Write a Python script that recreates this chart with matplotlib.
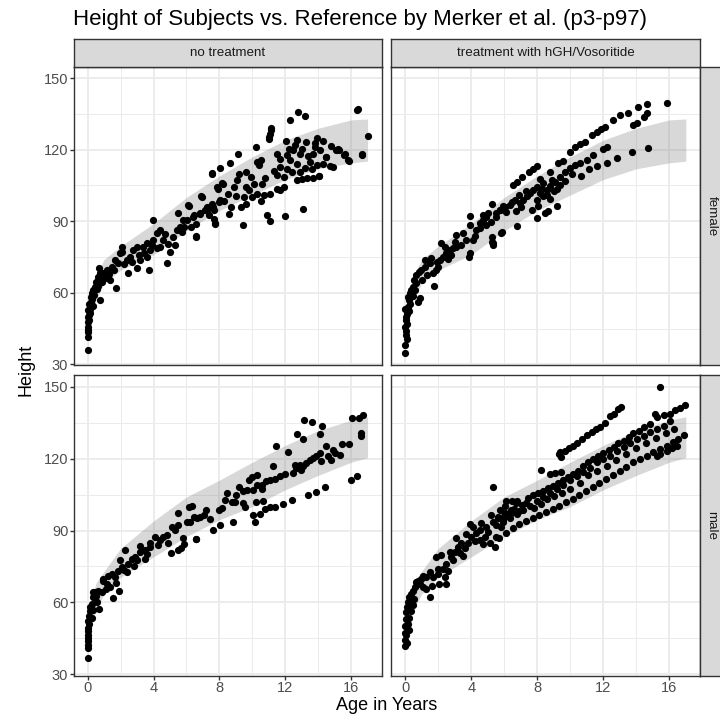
"""Height of subjects vs. Merker et al. reference band, faceted by sex and treatment."""
import matplotlib
matplotlib.use("Agg")
import matplotlib.pyplot as plt

plt.rcParams["font.family"] = ["Liberation Sans", "DejaVu Sans"]

# ----- reference band (p3 / p97) -----
ref_age = [0, 0.5, 1, 2, 4, 6, 8, 10, 12, 14, 16, 17]
female_p3 = [44, 57, 64, 69.5, 76, 86, 94.5, 101, 107.5, 112, 114.5, 115.2]
female_p97 = [53, 67, 74, 79.5, 89, 100, 109, 117, 124, 129, 132.5, 132.9]
male_p3 = [44, 57, 63.5, 70.5, 79, 87.5, 94.5, 100, 107, 113, 118.5, 120.4]
male_p97 = [54, 68, 73, 82.5, 94, 104, 111, 118.5, 125.5, 131.7, 136, 137.5]

# ----- subjects (age in years, height in cm) -----
female_untreated = [
    (0, 35.9), (0, 41.5), (0, 43.5), (0, 45.7), (0.02, 47.8), (0, 49.9), (0.04, 52.7),
    (0.06, 50.5), (0.1, 55.5), (0.12, 53), (0.18, 58.3), (0.2, 56), (0.24, 59.7),
    (0.28, 57.5), (0.34, 61.1), (0.4, 59), (0.45, 62.5), (0.5, 64.6), (0.55, 61.5),
    (0.65, 66.7), (0.71, 70.2), (0.75, 68.1), (0.75, 56.9), (0.85, 64.6), (0.95, 68.1),
    (1.05, 66), (0.02, 44.5), (0.08, 48.5), (0.15, 51.5), (0.3, 54.5), (0.6, 63),
    (1.15, 69.5), (1.46, 70.9), (1.66, 73.7), (1.96, 76.5), (2.06, 79.3), (2.37, 73.7),
    (2.57, 75.1), (2.77, 77.9), (2.98, 79.3), (3.18, 73.7), (2.98, 70.2), (2.47, 68.1),
    (3.74, 69.7), (2.06, 77.2), (1.86, 72.3), (1.36, 65.3), (1.72, 61.8), (1.3, 68),
    (1.6, 69.5), (2.2, 72), (2.7, 73), (3.4, 76.5), (0.9, 66.5), (1.2, 67),
    (3.38, 79.3), (3.58, 80.7), (3.79, 77.9), (3.99, 82.1), (4.19, 84.9), (4.39, 86.3),
    (3.99, 90.5), (4.6, 82.1), (4.8, 72.3), (5.0, 77.2), (5.2, 83.5), (5.4, 86.3),
    (5.6, 87.7), (5.5, 93.3), (5.81, 90.5), (6.11, 96.8), (4.39, 79.3), (3.58, 75.1),
    (4.19, 78.6), (4.9, 80.5), (5.3, 80), (4.7, 84.5), (3.1, 76), (3.9, 80),
    (6.58, 83.8), (6.42, 91.9), (6.92, 100.3), (6.82, 93.3), (7.23, 94.7), (7.63, 96.1),
    (7.83, 104.5), (8.14, 105.9), (8.04, 98.9), (7.53, 110.1), (7.73, 89.1),
    (16.34, 136.8), (12.79, 135.7), (13.19, 134.3), (12.26, 132.6), (11.13, 128.3),
    (11.05, 126.6), (10.99, 124.5), (17.05, 125.9), (10.2, 121.1), (12.04, 123.6),
    (12.73, 124.1), (13.27, 123.1), (13.78, 122.7), (15.25, 119.9), (15.64, 118.3),
    (15.86, 115.2), (16.65, 117.8), (9.13, 118.0), (8.67, 114.6), (8.06, 112.4),
    (7.54, 109.9), (6.91, 100.4), (6.14, 96.6), (6.59, 83.4), (9.41, 88.3),
    (10.89, 92.5), (11.09, 90.0), (11.96, 92.0), (13.11, 95.1), (14.04, 108.8),
    (14.46, 116.9), (13.5, 114.8), (13.7, 118.3), (13.8, 121.1), (14.1, 119.7),
    (11.5, 118.3), (11.7, 116.2), (12.1, 117.6), (12.3, 115.5), (12.5, 119.7),
    (12.7, 114.1), (12.9, 118.3), (11.7, 112.7), (12.1, 112.0), (11.5, 109.2),
    (11.9, 108.5), (12.7, 107.1), (13.0, 107.8), (13.3, 108.1), (11.1, 101.5),
    (11.5, 103.6), (11.9, 104.3), (11.7, 102.9), (10.6, 105.7), (10.8, 108.2),
    (10.4, 113.4), (10.3, 114.8), (10.5, 115.5), (9.6, 104.3), (9.8, 102.9),
    (10.1, 105.7), (10.0, 100.1), (10.3, 101.5), (9.5, 100.1), (9.6, 97.3), (9.3, 96.0),
    (10.5, 98.7), (10.7, 100.8), (9.1, 107.1), (8.9, 104.3), (9.2, 109.9), (9.6, 110.6),
    (8.2, 105.7), (7.9, 103.6), (8.5, 101.5), (8.3, 98.7), (8.7, 96.0), (8.6, 93.2),
    (8.0, 98.0), (7.7, 94.6), (7.15, 94.6), (7.35, 92.5), (6.85, 93.2), (7.66, 91.1),
    (7.76, 89.0), (6.44, 92.5), (6.04, 90.4), (5.84, 87.6), (5.74, 85.5), (7.25, 96.0),
    (7.55, 97.3), (16.4, 137.1), (16.64, 118.1), (15.8, 115.7), (15.6, 117.8),
    (15.22, 120.2), (14.5, 116.8), (14.07, 109.1), (13.7, 108.0), (11.11, 129.0),
    (11.03, 125.5), (12.2, 120.5), (12.6, 121.8), (13.0, 120.2), (13.4, 117.5),
    (13.6, 112), (13.9, 113.5), (14.3, 114), (14.7, 113.2), (13.2, 112.5), (12.9, 110.5),
    (12.4, 110.8), (14.9, 112.9), (15.1, 119.8), (14.8, 121.5), (13.9, 124.8),
    (14.3, 123.6), (9.0, 100.5), (9.9, 108.5), (11.3, 111), (6.6, 89), (6.3, 87.5),
]

female_treated = [
    (0, 34.7), (0, 38.0), (0.02, 42.2), (0, 45.7), (0.06, 48.5), (0.1, 51.3), (0.16, 54.1),
    (0.22, 56.9), (0.3, 59.7), (0.36, 61.1), (0.47, 62.5), (0.53, 65.3), (0.67, 67.4),
    (0.83, 68.8), (0.63, 63.9), (0.77, 56.2), (0.87, 57.6), (0.1, 47.1), (0.02, 49.9),
    (0, 53.4), (0.16, 58.3), (0.04, 44), (0.2, 52.5), (0.4, 60), (0.3, 55.5), (0.5, 58.5),
    (0.6, 61), (0.08, 40.5),
    (0.97, 69.5), (1.17, 70.9), (1.48, 72.3), (1.74, 62.9), (1.68, 68.1), (1.88, 69.5),
    (2.09, 73.7), (2.29, 75.1), (2.15, 81.0), (2.49, 76.5), (2.69, 77.9), (2.89, 78.6),
    (3.1, 79.3), (3.4, 80.0), (1.58, 74.4), (1.17, 73.7), (3.87, 75.1), (3.91, 76.5),
    (3.1, 84.2), (3.5, 84.9), (3.95, 92.2), (3.95, 88.4), (3.7, 82.1), (3.0, 81.4),
    (1.3, 67.5), (1.0, 65.5), (2.0, 71), (2.6, 74), (1.9, 73), (2.4, 79), (2.8, 76),
    (4.11, 82.1), (4.31, 86.3), (4.51, 89.1), (4.72, 90.5), (4.92, 91.9), (5.28, 81.4),
    (5.32, 80.0), (5.28, 97.2), (5.83, 85.2), (5.53, 91.9), (5.73, 94.7), (6.03, 96.1),
    (4.51, 87.0), (4.72, 92.6), (5.02, 93.3), (4.2, 84), (4.9, 88.5), (5.2, 89.5),
    (15.86, 139.7), (14.64, 139.2), (14.1, 137.8), (13.49, 135.6), (13.02, 134.6),
    (12.58, 132.5), (12.11, 129.7), (11.87, 128.6), (11.61, 127.6), (11.3, 126.2),
    (10.9, 123.4), (10.6, 122.3), (10.29, 121.0), (9.99, 119.2), (9.54, 115.4),
    (9.28, 114.3), (8.77, 110.8), (8.17, 107.6), (7.96, 113.2), (7.76, 111.8),
    (7.52, 110.8), (7.05, 108.7), (6.75, 106.6), (6.55, 105.3),
    (14.7, 120.6), (13.73, 119.2), (12.82, 116.4), (12.21, 114.6), (11.65, 113.2),
    (11.12, 111.8), (10.64, 109.0),
    (14.64, 135.3), (14.44, 133.9), (14.04, 131.1), (13.83, 130.4),
    (12.21, 121.3), (12.01, 120.2), (11.4, 117.8), (11.0, 115.7), (10.6, 114.6),
    (10.29, 113.6), (9.99, 112.2), (9.68, 110.8), (9.38, 108.7), (9.08, 106.6),
    (8.37, 106.0), (8.57, 103.2), (8.17, 101.8), (7.96, 99.0), (8.37, 100.4),
    (8.77, 104.6), (7.76, 103.2), (7.56, 101.8), (7.36, 100.4), (7.15, 99.0),
    (6.95, 97.6), (6.65, 99.0), (6.34, 96.9), (5.94, 96.2), (5.74, 94.8), (5.53, 93.4),
    (8.06, 96.2), (7.66, 94.8), (9.0, 102.5), (9.4, 105), (8.9, 107.5), (9.7, 107),
    (10.1, 110), (8.3, 103.5), (7.3, 102.5), (6.9, 101), (6.5, 98), (6.1, 94),
    (8.6, 101), (8.0, 104.5), (8.8, 99.5), (9.2, 103.5), (7.0, 96), (6.7, 94.5),
    (9.18, 96.5), (8.67, 94.5), (8.47, 93.4), (7.96, 91.3), (6.75, 88.1), (5.84, 85.3),
    (5.32, 80.8), (5.23, 83.6),
]

male_untreated = [
    (0, 36.8), (0, 41.0), (0, 43.8), (0, 46.6), (0, 49.4), (0.02, 52.3), (0.06, 54.4),
    (0.14, 56.5), (0.24, 59.3), (0.34, 62.1), (0.45, 64.2), (0.65, 64.9), (0.85, 64.2),
    (0.55, 60.0), (0.69, 57.2), (0.14, 57.9), (0.34, 64.2), (0.24, 53.7), (0.04, 48.0),
    (0.04, 45.2), (0, 42.4), (0.1, 51), (0.3, 57), (0.5, 62.5),
    (0.95, 69.8), (1.15, 67.7), (1.36, 66.3), (1.52, 61.8), (1.92, 64.6), (1.66, 70.5),
    (1.86, 73.3), (2.06, 74.8), (1.96, 77.6), (2.27, 81.8), (2.23, 73.6), (2.47, 76.2),
    (2.67, 78.3), (2.87, 79.0), (3.18, 81.1), (3.18, 83.5), (3.48, 81.8), (3.79, 83.2),
    (4.09, 87.4), (3.79, 84.6), (3.58, 80.4), (1.46, 71.9), (1.26, 71.2), (0.91, 69.1),
    (1.1, 65.5), (1.7, 68), (2.4, 72.5), (3.0, 77.5),
    (4.39, 86.0), (4.6, 87.4), (4.8, 88.1), (5.04, 80.7), (5.51, 81.8), (5.1, 91.6),
    (5.3, 90.2), (5.51, 92.3), (5.81, 86.7), (5.51, 97.3), (6.01, 93.7), (6.56, 86.3),
    (16.7, 138.2), (16.5, 136.8), (16.06, 136.8), (16.6, 130.8), (16.6, 129.4),
    (13.12, 136.1), (13.65, 135.3), (14.25, 133.6), (12.72, 130.4), (13.08, 128.0),
    (14.09, 130.4), (11.41, 125.1), (12.18, 122.8), (14.49, 125.2), (14.89, 123.8),
    (15.44, 125.9), (15.9, 125.9), (11.23, 117.0), (16.0, 111.2), (16.34, 112.6),
    (14.39, 108.0), (13.89, 105.9), (13.38, 104.9), (12.42, 102.8), (11.88, 101.0),
    (11.37, 100.0), (11.07, 99.7), (10.77, 98.9), (10.47, 96.8), (10.02, 96.3),
    (10.67, 102.4), (10.23, 102.1), (9.56, 99.8), (8.96, 101.7), (8.82, 93.7),
    (8.05, 92.1), (7.59, 90.2), (6.6, 86.5), (5.84, 84.4), (5.64, 82.6),
    (12.48, 114.0), (12.68, 116.1), (12.88, 117.5), (13.08, 116.8), (13.28, 118.2),
    (13.48, 119.6), (13.68, 120.3), (13.89, 121.0), (14.09, 122.4), (14.19, 118.9),
    (12.58, 117.5), (12.98, 115.4), (11.98, 113.7), (11.67, 112.6), (11.37, 111.5),
    (11.07, 110.9), (10.83, 110.5), (10.57, 107.3), (10.57, 109.1), (10.31, 109.1),
    (9.96, 112.3), (9.82, 111.2), (10.06, 107.0), (9.66, 107.0), (9.46, 106.3),
    (9.22, 108.1), (9.02, 104.9), (8.45, 105.6), (8.35, 102.8), (8.15, 99.3),
    (7.95, 98.6), (7.21, 98.6), (7.05, 96.5), (6.85, 95.8), (6.64, 95.1), (6.44, 95.8),
    (6.24, 93.7), (6.14, 99.8), (6.34, 100.3), (7.45, 94.8), (10.27, 113.3),
    (10.16, 93.7), (9.46, 101.4), (8.76, 102.1), (14.6, 121), (15.0, 122.5),
    (15.3, 121.5), (14.8, 119.5), (4.3, 84), (4.9, 85), (3.5, 78), (2.8, 75),
]

male_treated = [
    (0, 41.7), (0, 44.5), (0, 47.3), (0, 50.1), (0.02, 53.0), (0.06, 55.8), (0.12, 57.9),
    (0.18, 60.0), (0.26, 62.1), (0.36, 63.5), (0.47, 64.9), (0.57, 66.3), (0.63, 68.4),
    (0.87, 67.7), (1.07, 66.3), (1.48, 62.1), (1.28, 65.6), (0.16, 50.8), (0.06, 46.6),
    (0.26, 53.7), (0.36, 56.5), (0.1, 43), (0.2, 48.5), (0.45, 59), (0.55, 61.5),
    (0.77, 69.1), (0.97, 69.8), (1.28, 70.5), (1.68, 70.5), (2.04, 67.7), (2.49, 67.7),
    (2.39, 70.5), (1.98, 74.1), (1.88, 79.0), (2.19, 79.7), (2.49, 76.2), (2.79, 79.0),
    (2.99, 81.1), (2.69, 81.1), (3.2, 83.2), (3.4, 84.6), (3.1, 86.7), (3.6, 82.5),
    (3.81, 84.6), (3.91, 92.8), (4.11, 91.6), (4.01, 87.4), (4.31, 88.8), (4.51, 90.2),
    (4.51, 86.0), (4.82, 87.4), (4.92, 91.6), (5.12, 84.6), (5.43, 83.2), (5.53, 87.4),
    (5.32, 93.7), (5.63, 95.1), (5.83, 91.6), (6.03, 97.3), (6.44, 98.7), (6.74, 101.5),
    (6.13, 102.2), (1.5, 72.5), (2.3, 74), (2.9, 77.5), (3.5, 79.5), (4.7, 84.5),
    (1.1, 71), (1.6, 67), (2.0, 72), (2.6, 73), (3.3, 80.5), (3.7, 88.5), (4.2, 85.5),
    (4.6, 93), (5.0, 89.5), (5.2, 96.5), (5.9, 94.5), (6.3, 96), (6.6, 99),
    (15.41, 149.7), (13.09, 141.6), (12.92, 140.9), (12.66, 138.7), (12.42, 137.8),
    (12.11, 134.8), (11.81, 133.1), (11.57, 132.4), (11.3, 131.0), (11.0, 130.0),
    (10.7, 128.2), (10.43, 126.5), (10.19, 125.4), (9.95, 124.3), (9.68, 123.3),
    (9.38, 122.9), (9.34, 121.9), (9.42, 120.5),
    (8.21, 115.1), (8.77, 113.7), (9.08, 114.1), (9.42, 114.6), (5.29, 108.1),
    (16.97, 142.5), (16.67, 141.1), (16.36, 140.2), (16.06, 138.7), (15.66, 138.0),
    (15.25, 137.3), (15.15, 138.7), (14.85, 134.5), (14.44, 133.1), (14.14, 131.7),
    (13.83, 130.6), (13.53, 128.9), (13.23, 127.5), (12.92, 126.4), (12.62, 125.0),
    (12.32, 123.6), (12.01, 122.2), (11.71, 121.2), (11.4, 119.8), (11.1, 118.4),
    (10.8, 116.9), (10.49, 114.8), (10.19, 113.4), (9.89, 112.3), (9.58, 110.9),
    (9.28, 109.9), (8.98, 108.5), (8.67, 107.8), (8.37, 106.7), (8.06, 105.7),
    (7.76, 104.7), (7.46, 103.6), (7.05, 100.8), (6.75, 102.5), (6.45, 102.2),
    (6.04, 100.1), (5.74, 98.7),
    (16.06, 135.9), (15.66, 133.8), (15.25, 132.4), (14.85, 131.0), (14.44, 129.6),
    (14.04, 128.2), (13.63, 126.4), (13.23, 125.0), (12.82, 123.3), (12.42, 121.2),
    (12.01, 119.8), (11.61, 118.4), (11.2, 116.2), (10.8, 114.6), (10.39, 112.7),
    (9.99, 110.9), (9.58, 109.2), (9.18, 107.5), (8.77, 105.7), (8.37, 103.9),
    (7.96, 102.2), (7.56, 100.1), (7.15, 98.7), (6.75, 96.8), (6.34, 95.1), (5.94, 93.7),
    (5.53, 92.3),
    (16.91, 130.0), (16.55, 128.2), (16.24, 126.8), (15.84, 125.4), (15.43, 124.0),
    (15.02, 122.6), (14.62, 121.2), (14.21, 119.8), (13.81, 118.4), (13.4, 116.5),
    (12.99, 114.8), (12.59, 113.2), (12.18, 111.4), (11.77, 110.0), (11.37, 108.1),
    (10.96, 106.7), (10.55, 105.0), (10.14, 103.3), (9.74, 101.8), (9.34, 100.4),
    (8.93, 99.1), (8.53, 97.7), (8.13, 96.5), (7.72, 95.4), (7.32, 94.0), (6.92, 92.6),
    (6.51, 91.0), (6.11, 88.8), (5.7, 86.7),
    (15.45, 121.9), (15.86, 123.3), (16.16, 124.6), (15.25, 121.2), (16.46, 125.3),
    (7.3, 101.5), (7.8, 99.5), (8.2, 101), (8.6, 103), (9.0, 104.5), (9.5, 105.5),
    (6.9, 98), (6.4, 97.5), (6.0, 96), (5.6, 95.5), (10.0, 107.5), (10.6, 110),
    (11.1, 113), (11.6, 115), (12.2, 117), (12.8, 119.5), (13.4, 122), (14.0, 124.5),
    (14.6, 126.5), (15.2, 128.5), (15.8, 130.5), (16.3, 132.5),
]

rows = ["female", "male"]
cols = ["no treatment", "treatment with hGH/Vosoritide"]
panels = {("female", 0): female_untreated, ("female", 1): female_treated,
          ("male", 0): male_untreated, ("male", 1): male_treated}
bands = {"female": (female_p3, female_p97), "male": (male_p3, male_p97)}

W, H = 720, 719
fig = plt.figure(figsize=(W / 100, H / 100), dpi=100)

# panel boxes in pixels: (left, right), (top, bottom)
col_px = [(74, 381.7), (391.5, 700)]
row_px = [(66.5, 365.5), (375, 675.5)]
dark = "#333333"


def px_axes(x0, x1, y0, y1):
    return fig.add_axes([x0 / W, 1 - y1 / H, (x1 - x0) / W, (y1 - y0) / H])


for ri, sex in enumerate(rows):
    for ci in range(2):
        (x0, x1), (y0, y1) = col_px[ci], row_px[ri]
        ax = px_axes(x0, x1, y0, y1)
        lo, hi = bands[sex]
        ax.fill_between(ref_age, lo, hi, color="#7f7f7f", alpha=0.3, lw=0, zorder=1)
        pts = panels[(sex, ci)]
        ax.scatter([p[0] for p in pts], [p[1] for p in pts], s=27, c="black",
                   linewidths=0, zorder=3)
        ax.set_xlim(-0.83, 17.86)
        ax.set_ylim(29.5, 154.9)
        ax.set_xticks([0, 4, 8, 12, 16])
        ax.set_xticks([2, 6, 10, 14], minor=True)
        ax.set_yticks([30, 60, 90, 120, 150])
        ax.set_yticks([45, 75, 105, 135], minor=True)
        ax.grid(which="major", color="#ebebeb", lw=1.3, zorder=0)
        ax.grid(which="minor", color="#ebebeb", lw=0.7, zorder=0)
        ax.set_axisbelow(True)
        for sp in ax.spines.values():
            sp.set_color(dark)
            sp.set_linewidth(1.0)
        ax.tick_params(which="minor", length=0)
        ax.tick_params(which="major", length=2.6, width=1.0, color=dark,
                       labelcolor="#4d4d4d", labelsize=10.5, pad=1.5)
        if ri == 0:
            ax.tick_params(axis="x", which="major", length=0, labelbottom=False)
        if ci == 1:
            ax.tick_params(axis="y", which="major", length=0, labelleft=False)

        # top strips
        if ri == 0:
            st = px_axes(x0, x1, 38.5, y0)
            st.set_facecolor("#d9d9d9")
            st.set_xticks([]); st.set_yticks([])
            for sp in st.spines.values():
                sp.set_color(dark); sp.set_linewidth(1.0)
            st.text(0.5, 0.5, cols[ci], ha="center", va="center", fontsize=9.6,
                    color="#1a1a1a", transform=st.transAxes)
        # right strips
        if ci == 1:
            st = px_axes(x1, 724, y0, y1)
            st.set_facecolor("#d9d9d9")
            st.set_xticks([]); st.set_yticks([])
            for sp in st.spines.values():
                sp.set_color(dark); sp.set_linewidth(1.0)
            fig.text(711.5 / W, 1 - (y0 + y1) / 2 / H, sex, ha="center", va="center",
                     rotation=-90, fontsize=9.6, color="#1a1a1a")

fig.text(73 / W, 1 - 20 / H, "Height of Subjects vs. Reference by Merker et al. (p3-p97)",
         ha="left", va="center", fontsize=16, color="black")
fig.text(26 / W, 1 - 370 / H, "Height", rotation=90, ha="center", va="center",
         fontsize=13, color="black")
fig.text(387 / W, 1 - 706 / H, "Age in Years", ha="center", va="center",
         fontsize=13, color="black")

fig.savefig("out.png", dpi=100)
